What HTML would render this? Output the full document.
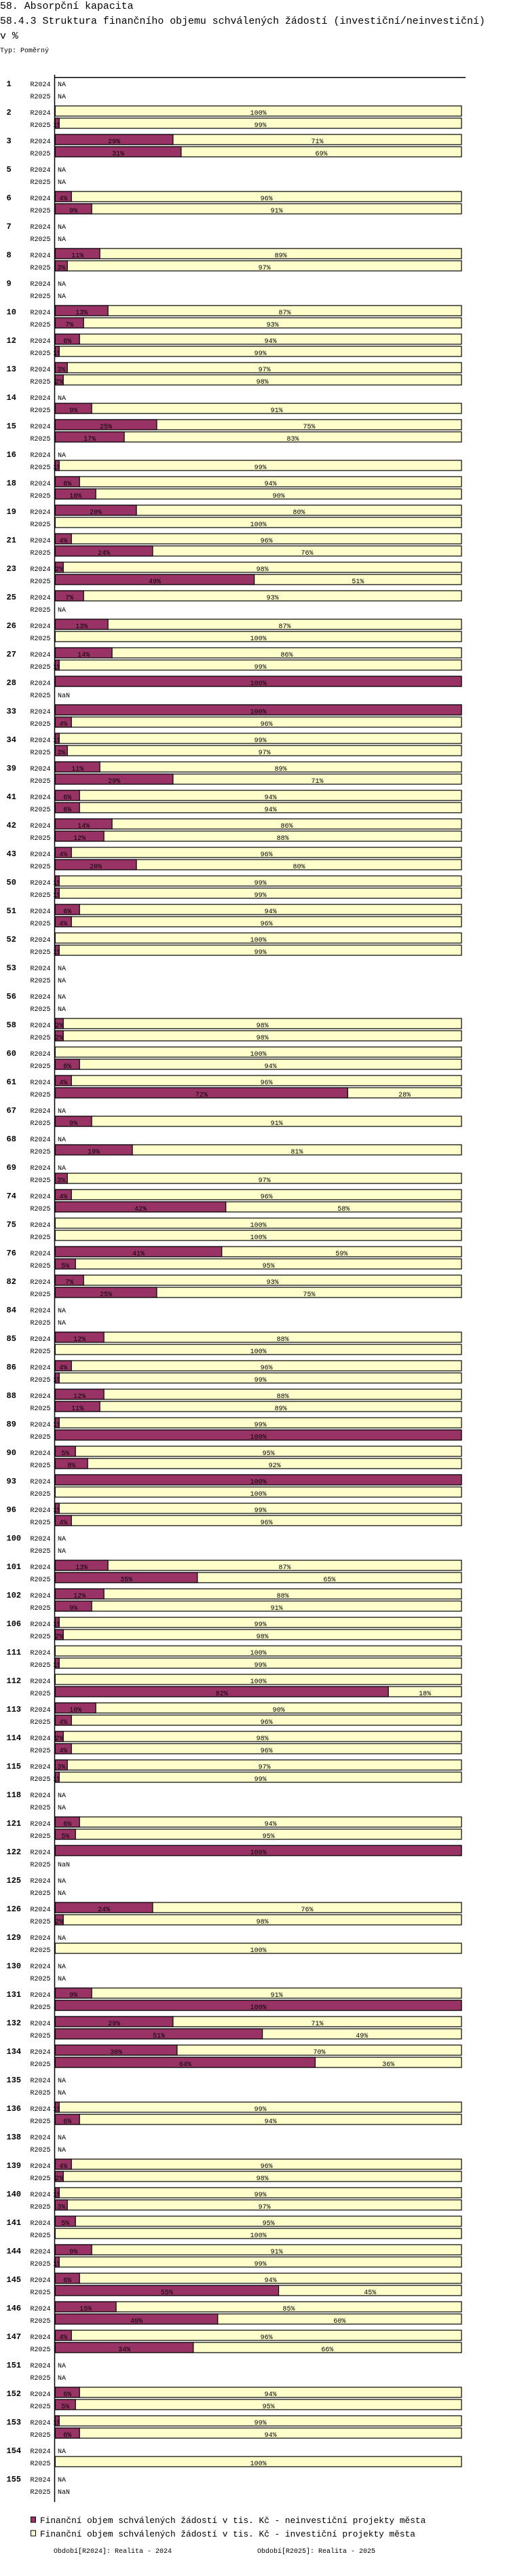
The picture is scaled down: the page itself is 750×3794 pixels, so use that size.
<!DOCTYPE html>
<html><head><meta charset="utf-8"><title>58.4.3</title>
<style>
html,body{margin:0;padding:0;background:#fff;}
body{width:750px;height:3794px;overflow:hidden;}
svg{display:block;}
text{font-family:"Liberation Mono",monospace;fill:#000;}
</style></head>
<body>
<svg id="chart" width="750" height="3794" viewBox="0 0 750 3794" xmlns="http://www.w3.org/2000/svg">
  <text x="0" y="13" font-size="14.9">58. Absorpční kapacita</text>
  <text x="0" y="35" font-size="14.9">58.4.3 Struktura finančního objemu schválených žádostí (investiční/neinvestiční)</text>
  <text x="0" y="57" font-size="14.9">v %</text>
  <text x="0" y="77" font-size="10">Typ: Poměrný</text>
  <g id="bars"></g>
  <line x1="80.5" y1="114.3" x2="686" y2="114.3" stroke="#000" stroke-width="1.5"/>
  <line x1="80.5" y1="110" x2="80.5" y2="3685" stroke="#000" stroke-width="1.5"/>
  <g>
    <rect x="45.5" y="3707" width="7" height="8" fill="#993366" stroke="#000" stroke-width="1"/>
    <text x="59" y="3716" font-size="12.8">Finanční objem schválených žádostí v tis. Kč - neinvestiční projekty města</text>
    <rect x="45.5" y="3727" width="7" height="8" fill="#ffffcc" stroke="#000" stroke-width="1"/>
    <text x="59" y="3736" font-size="12.8">Finanční objem schválených žádostí v tis. Kč - investiční projekty města</text>
  </g>
  <text x="79" y="3760" font-size="10">Období[R2024]: Realita - 2024</text>
  <text x="379" y="3760" font-size="10">Období[R2025]: Realita - 2025</text>
</svg>
<script>
// categories (group ids)
var groups = [1,2,3,5,6,7,8,9,10,12,13,14,15,16,18,19,21,23,25,26,27,28,33,34,39,41,42,43,50,51,52,53,56,58,60,61,67,68,69,74,75,76,82,84,85,86,88,89,90,93,96,100,101,102,106,111,112,113,114,115,118,121,122,125,126,129,130,131,132,134,135,136,138,139,140,141,144,145,146,147,151,152,153,154,155];
// share of non-investment (%) per period; null = NA, NaN = NaN; investment share = 100 - value
var nonInv2024 = [null,0,29,null,4,null,11,null,13,6,3,null,25,null,6,20,4,2,7,13,14,100,100,1,11,6,14,4,1,6,0,null,null,2,0,4,null,null,null,4,0,41,7,null,12,4,12,1,5,100,1,null,13,12,1,0,0,10,2,3,null,6,100,null,24,null,null,9,29,30,null,1,null,4,1,5,9,6,15,4,null,6,1,null,null];
var nonInv2025 = [null,1,31,null,9,null,3,null,7,1,2,9,17,1,10,0,24,49,null,0,1,NaN,4,3,29,6,12,20,1,4,1,null,null,2,6,72,9,19,3,42,0,5,25,null,0,1,11,100,8,0,4,null,35,9,2,1,82,4,4,1,null,5,NaN,null,2,0,null,100,51,64,null,6,null,2,3,0,1,55,40,34,null,5,6,0,NaN];
var periods = ["R2024","R2025"];

var NS = "http://www.w3.org/2000/svg";
var root = document.getElementById("bars");
var X0 = 81.3, W = 598.7;
function xScale(p){ return X0 + W * p / 100; }
function rowY(gi, pi){ return 123 + 42 * gi + 18 * pi; }
function mk(tag, attrs, parent){
  var e = document.createElementNS(NS, tag);
  for (var k in attrs) e.setAttribute(k, attrs[k]);
  parent.appendChild(e);
  return e;
}
var defs = mk("defs", {}, document.getElementById("chart"));
var clipId = 0;

groups.forEach(function(g, gi){
  var grp = mk("g", {}, root);
  
  
  var gl = mk("text", {x: 9.5, y: rowY(gi,0) + 4, "font-size": 12, "font-weight": "bold"}, grp);
  
  
  gl.textContent = g;
  [nonInv2024, nonInv2025].forEach(function(arr, pi){
    var v = arr[gi];
    var cy = rowY(gi, pi);
    var pl = mk("text", {x: 44.5, y: cy + 4, "font-size": 10}, grp);
    
    
    pl.textContent = periods[pi];
    if (v === null || (typeof v === "number" && isNaN(v))) {
      var na = mk("text", {x: 85, y: cy + 4, "font-size": 10}, grp);
      
      
      na.textContent = (v === null) ? "NA" : "NaN";
      return;
    }
    var top = cy - 9, h = 15;
    var xm = xScale(v), xe = xScale(100);
    var inv = mk("rect", {x: X0, y: top, width: xe - X0, height: h, fill: "#ffffcc", stroke: "#000", "stroke-width": 1.2}, grp);
    
    
    if (v > 0) {
      var ni = mk("rect", {x: X0, y: top, width: xm - X0, height: h, fill: "#993366", stroke: "#000", "stroke-width": 1.2}, grp);
      
      
      var cid = "c" + (clipId++);
      var cp = mk("clipPath", {id: cid}, defs);
      mk("rect", {x: 0, y: top, width: xm, height: h}, cp);
      var t1 = mk("text", {x: (X0 + xm) / 2, y: cy + 4, "font-size": 10, "text-anchor": "middle", "clip-path": "url(#" + cid + ")"}, grp);
      
      
      t1.textContent = v + "%";
    }
    if (v < 100) {
      var t2 = mk("text", {x: (xm + xe) / 2, y: cy + 4, "font-size": 10, "text-anchor": "middle"}, grp);
      
      
      t2.textContent = (100 - v) + "%";
    }
  });
});
</script>
</body></html>
